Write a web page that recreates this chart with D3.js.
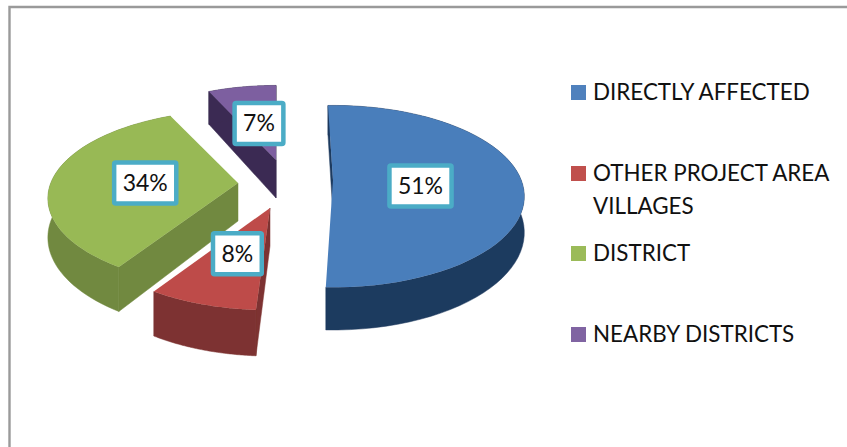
<!DOCTYPE html>
<html><head><meta charset="utf-8">
<script src="https://cdn.jsdelivr.net/npm/d3@7"></script>
<style>html,body{margin:0;padding:0;background:#fff}svg{display:block}text{font-family:Lato,"Open Sans",sans-serif;fill:#111}</style>
</head><body><svg id="c" width="847" height="447"></svg>
<script>
const categories = ["DIRECTLY AFFECTED", "OTHER PROJECT AREA VILLAGES", "DISTRICT", "NEARBY DISTRICTS"];
const values = [51, 8, 34, 7];
const topColors = ["#4a7ebb", "#be4b48", "#98b954", "#7d5fa0"];
const wallColors = ["#1f3a5f", "#7d3230", "#71893f", "#3b2c52"];
const legendColors = ["#4f81bd", "#c0504d", "#9bbb59", "#8064a2"];
const legendLines = [["DIRECTLY AFFECTED"], ["OTHER PROJECT AREA", "VILLAGES"], ["DISTRICT"], ["NEARBY DISTRICTS"]];
const legendY = [92, 173, 253, 334];
// exploded-slice layout: apex position, size factors, twist in degrees, depth, label placement
const apexX = [333, 270, 238, 276];
const apexY = [180, 208, 183, 160];
const sizes = [1, 0.96, 0.97, 1];
const xScale = [0.975, 1, 1, 0.95];
const twist = [-1.8, 0, 0.5, 0];
const depths = [35, 38, 38, 38];
const labelR = [0.465, 0.5, 0.485, 0.46];
const labelDy = [6, 0, 3, 0];

const svg = d3.select("#c");
const defs = svg.append("defs");
defs.append("filter").attr("id", "soft").append("feGaussianBlur").attr("stdDeviation", 0.6);
svg.append("path").attr("d", "M9.5 447V7H847").attr("fill", "none").attr("stroke", "#9a9a9a").attr("stroke-width", 2.4);

const RX = 193, RY = 88, K = 0.18;
const pie = d3.pie().sort(null).value(d => d);
const arcs = pie(values);
const proj = (a, r) => {
  const d = -Math.cos(a) * r, s = 1 / (1 - K * d);
  return { x: RX * Math.sin(a) * r * s, y: RY * d * s, s };
};
const line = d3.line().x(p => p[0]).y(p => p[1]);

const order = [3, 2, 1, 0];
const g = svg.append("g").attr("filter", "url(#soft)");
order.forEach(i => {
  const a = arcs[i], t = twist[i] * Math.PI / 180;
  const a0 = a.startAngle + t, a1 = a.endAngle + t;
  const pt = (ang, r) => { const p = proj(ang, r * sizes[i]); return { x: apexX[i] + p.x * xScale[i], y: apexY[i] + p.y, s: p.s }; };
  const angs = d3.range(0, 61).map(k => a0 + (a1 - a0) * k / 60);
  const rim = angs.map(x => pt(x, 1));
  const A = pt(a0, 0);
  const low = p => [p.x, p.y + depths[i] * p.s];
  const up = p => [p.x, p.y];
  const mid = rim[30];
  const walls = [rim[0], rim[60]].map(P => {
    const vx = P.x - A.x, vy = P.y - A.y;
    const side = vx * (mid.y - A.y) - vy * (mid.x - A.x);
    return { P, visible: side * vx < 0 };
  }).filter(w => w.visible).sort((p, q) => p.P.y - q.P.y);
  walls.forEach(w => {
    g.append("path").attr("fill", wallColors[i]).attr("stroke", wallColors[i]).attr("stroke-width", 0.5)
      .attr("d", line([up(A), up(w.P), low(w.P), low(A)]) + "Z");
  });
  g.append("path").attr("fill", wallColors[i]).attr("stroke", wallColors[i]).attr("stroke-width", 0.5)
    .attr("d", line(rim.map(up).concat(rim.map(low).reverse())) + "Z");
  g.append("path").attr("fill", topColors[i]).attr("d", line([up(A)].concat(rim.map(up))) + "Z");
});

const labels = svg.append("g");
arcs.forEach((a, i) => {
  const m = (a.startAngle + a.endAngle) / 2 + twist[i] * Math.PI / 180;
  const p = proj(m, labelR[i]);
  const cx = apexX[i] + p.x * xScale[i], cy = apexY[i] + p.y + labelDy[i];
  const gg = labels.append("g").attr("transform", `translate(${cx},${cy})`);
  const rect = gg.append("rect");
  const tx = gg.append("text").attr("text-anchor", "middle").attr("y", 8).attr("font-size", 23).text(a.data + "%");
  const w = tx.node().getBBox().width + 17;
  rect.attr("x", -w / 2).attr("y", -20.5).attr("width", w).attr("height", 41).attr("rx", 1.5)
    .attr("fill", "#fff").attr("stroke", "#4bacc6").attr("stroke-width", 4.5);
});

const leg = svg.append("g");
categories.forEach((c, i) => {
  leg.append("rect").attr("x", 571).attr("y", legendY[i] - 7).attr("width", 15).attr("height", 15).attr("fill", legendColors[i]);
  legendLines[i].forEach((l, j) => {
    leg.append("text").attr("x", 593).attr("y", legendY[i] + 8 + j * 33).attr("font-size", 22.4).text(l);
  });
});
</script></body></html>
